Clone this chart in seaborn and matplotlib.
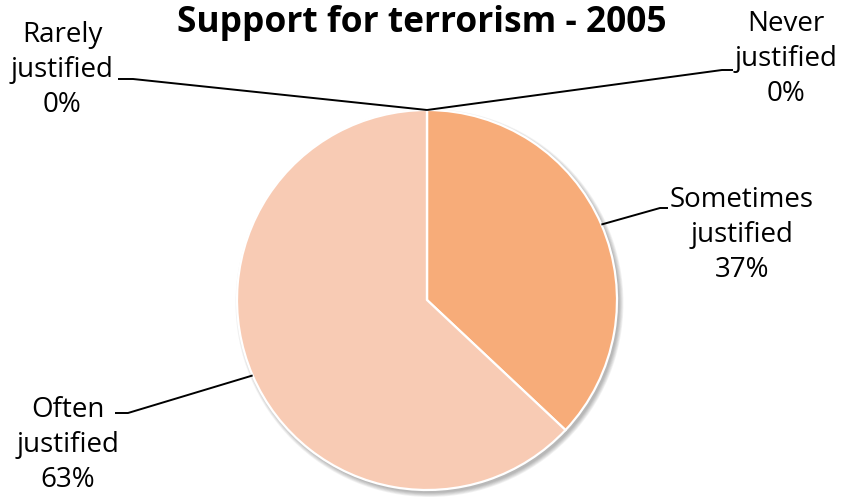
import numpy as np
import matplotlib
matplotlib.use("Agg")
import matplotlib.pyplot as plt
import matplotlib.patches as mpatches
import seaborn as sns

# data
categories = ["Never justified", "Sometimes justified", "Often justified", "Rarely justified"]
shares = [0, 37, 63, 0]
colors = ["#F4A77A", "#F7AC79", "#F8CBB4", "#FAD9C6"]

sns.set_theme(style="white")
plt.rcParams['font.family'] = ['Open Sans', 'DejaVu Sans']

W, H = 844, 498
R = 190.0
cx, cy = 427, 300

fig = plt.figure(figsize=(W / 100, H / 100), dpi=100)
ax = fig.add_axes([0, 0, 1, 1])

# soft shadow
for k in range(6):
    ax.add_patch(mpatches.Circle((2.5 / R, -3.0 / R), 1 + (k * 0.8) / R,
                                 color="#000000", alpha=0.05, lw=0, zorder=0))

wedges, _ = ax.pie(shares, colors=colors, startangle=90, counterclock=False,
                   radius=1.0,
                   wedgeprops=dict(edgecolor="white", linewidth=1.6))
for w in wedges:
    w.set_zorder(2)


def d(px, py):
    return ((px - cx) / R, (cy - py) / R)


# label positions (pixels) and elbow points
labels = {
    "Never justified": dict(text="Never\njustified\n0%", pos=(786, 59), elbow=[(722, 70), (733, 70)]),
    "Sometimes justified": dict(text="Sometimes\njustified\n37%", pos=(742, 235), elbow=[(660, 208), (668, 208)]),
    "Often justified": dict(text="Often\njustified\n63%", pos=(68, 445), elbow=[(128, 413), (115, 413)]),
    "Rarely justified": dict(text="Rarely\njustified\n0%", pos=(62, 70), elbow=[(133, 79), (118, 79)]),
}

for w, cat in zip(wedges, categories):
    mid = np.deg2rad((w.theta1 + w.theta2) / 2)
    ax_, ay_ = np.cos(mid), np.sin(mid)
    info = labels[cat]
    pts = [(ax_, ay_)] + [d(*p) for p in info["elbow"]]
    xs, ys = zip(*pts)
    ax.plot(xs, ys, color="black", lw=1.4, zorder=3, solid_capstyle="butt")
    tx, ty = d(*info["pos"])
    ax.text(tx, ty, info["text"], ha="center", va="center", fontsize=20,
            linespacing=1.33, color="black")

tx, ty = d(422, 23)
ax.text(tx, ty, "Support for terrorism - 2005", ha="center", va="center",
        fontsize=25.5, fontweight="bold", color="black")

ax.set_xlim(-cx / R, (W - cx) / R)
ax.set_ylim(-(H - cy) / R, cy / R)
ax.set_aspect("auto")
ax.axis("off")

fig.savefig("out.png", dpi=100)
